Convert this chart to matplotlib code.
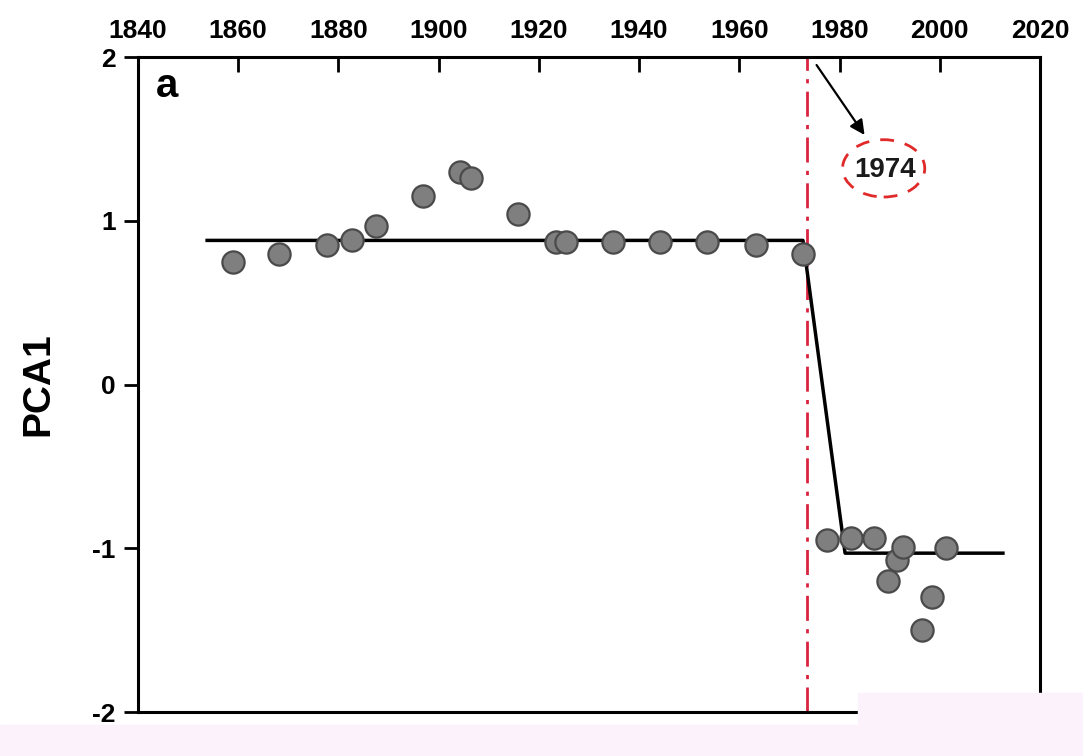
import matplotlib
matplotlib.use("Agg")
import matplotlib.pyplot as plt
from matplotlib.patches import Ellipse, Rectangle

plt.rcParams['font.family'] = ['Liberation Sans', 'DejaVu Sans']
plt.rcParams['font.weight'] = 'bold'
plt.rcParams['axes.unicode_minus'] = False

# Data
years = [1859.0, 1868.1, 1877.7, 1882.7, 1887.5, 1896.9, 1904.3, 1906.5, 1915.8,
         1923.4, 1925.4, 1934.8, 1944.2, 1953.5, 1963.3, 1972.7,
         1977.5, 1982.3, 1986.9, 1989.7, 1991.5, 1992.7, 1996.5, 1998.5, 2001.2]
pca1 = [0.75, 0.80, 0.85, 0.88, 0.97, 1.15, 1.30, 1.26, 1.04,
        0.87, 0.87, 0.87, 0.87, 0.87, 0.85, 0.80,
        -0.95, -0.94, -0.94, -1.20, -1.07, -0.99, -1.50, -1.30, -1.00]
fit_years = [1853.8, 1972.7, 1981.1, 2012.6]
fit_vals = [0.88, 0.88, -1.03, -1.03]
change_year = 1973.5
change_label = "1974"
xticks = [1840, 1860, 1880, 1900, 1920, 1940, 1960, 1980, 2000, 2020]
yticks = [-2, -1, 0, 1, 2]

fig = plt.figure(figsize=(10.83, 7.56), dpi=100)
ax = fig.add_axes([0.1274, 0.0582, 0.8329, 0.8664])

ax.plot(fit_years, fit_vals, color='black', lw=2.5, zorder=2)
ax.plot(years, pca1, 'o', ms=16, mfc='#7f7f7f', mec='#4a4a4a', mew=1.6, zorder=3)
ax.axvline(change_year, color='#d8243f', lw=2.0, dashes=[9, 3, 1.5, 3], zorder=1)

ax.annotate('', xy=(1985.3, 1.51), xytext=(1975.1, 1.965),
            arrowprops=dict(arrowstyle='-|>', color='black', lw=1.6, mutation_scale=22))
ax.add_patch(Ellipse((1988.8, 1.32), 16.4, 0.35, fill=False, ec='#e02a2a',
                     lw=2.0, ls=(0, (5, 4))))
ax.text(1989.0, 1.31, change_label, ha='center', va='center', fontsize=20,
        fontweight='bold', color='#1a1a1a')
ax.text(1843.5, 1.82, 'a', ha='left', va='center', fontsize=29, fontweight='bold')

ax.set_xlim(1840, 2020)
ax.set_ylim(-2, 2)
ax.xaxis.tick_top()
ax.set_xticks(xticks)
ax.set_yticks(yticks)
ax.tick_params(axis='x', direction='in', length=11, width=2, labelsize=19, pad=10)
ax.tick_params(axis='y', direction='out', length=10, width=2, labelsize=19, pad=6)
for lab in ax.get_xticklabels() + ax.get_yticklabels():
    lab.set_fontweight('bold')
ax.set_ylabel('PCA1', fontsize=28, fontweight='bold', labelpad=26)
for s in ax.spines.values():
    s.set_linewidth(2.2)

# light pink band at the bottom of the source image
pink = '#fcf2fc'
fig.patches.append(Rectangle((0, 0), 1, 31 / 756, transform=fig.transFigure,
                             color=pink, zorder=10))
fig.patches.append(Rectangle((858 / 1083, 0), 1, 63 / 756, transform=fig.transFigure,
                             color=pink, zorder=10))

fig.savefig('out.png', dpi=100)
